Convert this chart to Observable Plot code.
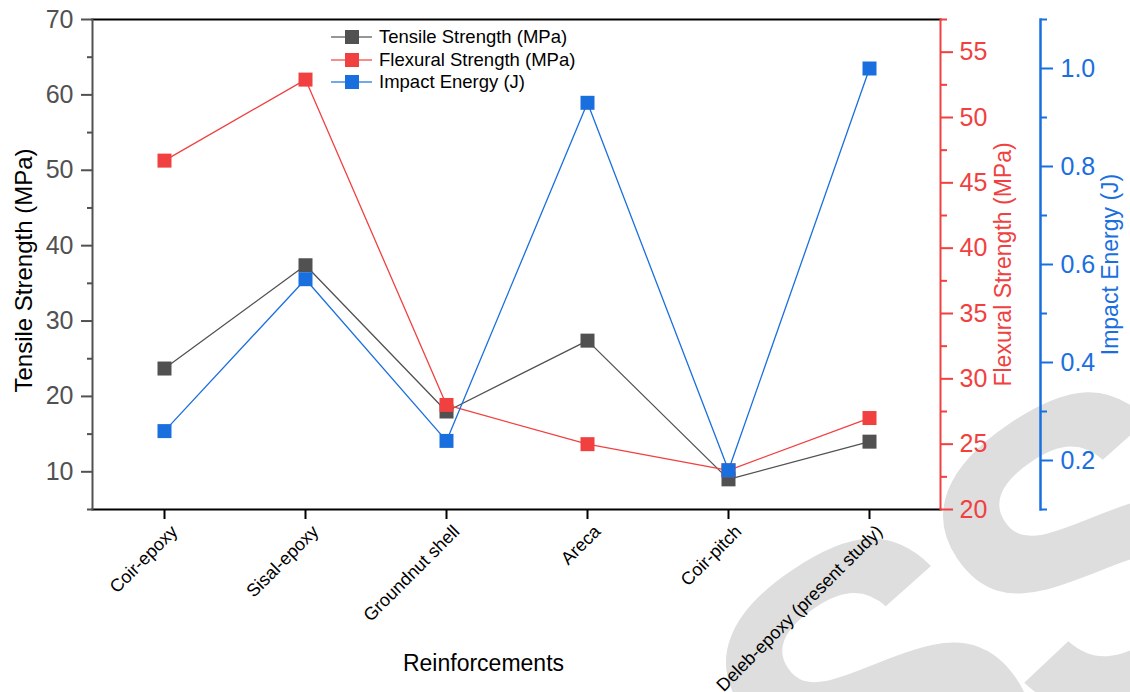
<!DOCTYPE html>
<html>
<head>
<meta charset="utf-8">
<script src="https://cdn.jsdelivr.net/npm/d3@7"></script>
<script src="https://cdn.jsdelivr.net/npm/@observablehq/plot@0.6"></script>
<style>
  body { margin: 0; background: #fff; font-family: "Liberation Sans", Arial, sans-serif; }
  #chart { position: relative; width: 1130px; height: 692px; overflow: hidden; }
  #chart > svg, #chart > .layer { position: absolute; left: 0; top: 0; }
  .legend-row { position: absolute; left: 330px; height: 22px; display: flex; align-items: center;
                font-size: 18.5px; color: #000; white-space: nowrap; }
  .legend-row svg { margin-right: 6px; }
</style>
</head>
<body>
<div id="chart"></div>
<script>
// Composite reinforcement comparison
const reinforcements = ["Coir-epoxy", "Sisal-epoxy", "Groundnut shell", "Areca", "Coir-pitch", "Deleb-epoxy (present study)"];
const tensileStrength = [23.7, 37.4, 18.0, 27.4, 9.0, 14.0];   // MPa
const flexuralStrength = [46.7, 52.9, 28.0, 25.0, 23.0, 27.0]; // MPa
const impactEnergy = [0.26, 0.57, 0.24, 0.93, 0.18, 1.0];      // J

const seriesNames = ["Tensile Strength (MPa)", "Flexural Strength (MPa)", "Impact Energy (J)"];
const seriesColors = ["#515151", "#F14040", "#1A6FDF"];

const tensileTicks = [10, 20, 30, 40, 50, 60, 70];
const tensileMinor = [5, 15, 25, 35, 45, 55, 65];
const flexuralTicks = [20, 25, 30, 35, 40, 45, 50, 55];
const flexuralMinor = [22.5, 27.5, 32.5, 37.5, 42.5, 47.5, 52.5, 57.5];
const impactTicks = [0.2, 0.4, 0.6, 0.8, 1.0];
const impactMinor = [0.1, 0.3, 0.5, 0.7, 0.9, 1.1];

const rows = reinforcements.map((name, i) => ({
  name, tensile: tensileStrength[i], flexural: flexuralStrength[i], impact: impactEnergy[i]
}));

const W = 1130, H = 692;
const FONT = "'Liberation Sans', Arial, sans-serif";
const X_RANGE = [92, 940];
const sq = 7.9; // dot radius giving ~14px squares

const chart = document.getElementById("chart");

// faint watermark lettering behind the chart
const wm = d3.create("svg").attr("class", "layer").attr("width", W).attr("height", H);
wm.append("text")
  .attr("x", 840).attr("y", 900)
  .attr("transform", "rotate(-34 840 900)")
  .attr("font-family", FONT).attr("font-weight", "bold")
  .attr("font-size", 430).attr("letter-spacing", -25).attr("fill", "#dedede")
  .text("SS");
chart.append(wm.node());

function layer(opts) {
  return Plot.plot({
    width: W, height: H,
    marginLeft: 92, marginTop: 19, marginBottom: 183,
    marginRight: opts.marginRight ?? 190,
    style: { background: "transparent", fontFamily: FONT, overflow: "visible" },
    x: { type: "point", domain: reinforcements, padding: 0.5, range: X_RANGE, axis: null },
    y: { domain: opts.yDomain, axis: null },
    marks: opts.marks
  });
}

// Tensile strength (left axis) with category axis
const p1 = layer({
  yDomain: [5, 70],
  marks: [
    Plot.frame({ anchor: "top", stroke: "#000", strokeWidth: 2 }),
    Plot.frame({ anchor: "bottom", stroke: "#000", strokeWidth: 2 }),
    Plot.frame({ anchor: "left", stroke: seriesColors[0], strokeWidth: 2 }),
    Plot.axisY(tensileTicks, { anchor: "left", tickSize: 11, tickPadding: 8, fontSize: 25, color: seriesColors[0], strokeWidth: 2, label: null }),
    Plot.axisY(tensileMinor, { anchor: "left", tickSize: 5, tickFormat: () => "", color: seriesColors[0], strokeWidth: 2, label: null }),
    Plot.axisX(reinforcements, { tickSize: 10, tickFormat: () => "", color: "#000", strokeWidth: 2, label: null }),
    Plot.text(reinforcements, { x: d => d, frameAnchor: "bottom", dy: 19, dx: 10, rotate: -45, textAnchor: "end", lineAnchor: "middle", fontSize: 18, fill: "#000" }),
    Plot.text(["Tensile Strength (MPa)"], { frameAnchor: "left", dx: -68, dy: 6, rotate: -90, textAnchor: "middle", fontSize: 24, fill: "#000", lineAnchor: "middle" }),
    Plot.text(["Reinforcements"], { frameAnchor: "bottom", dx: -33, dy: 154, textAnchor: "middle", fontSize: 23, fill: "#000", lineAnchor: "middle" }),
    Plot.line(rows, { x: "name", y: "tensile", stroke: seriesColors[0], strokeWidth: 1.3 }),
    Plot.dot(rows, { x: "name", y: "tensile", symbol: "square", r: sq, fill: seriesColors[0], stroke: null })
  ]
});

// Flexural strength (first right axis)
const p2 = layer({
  yDomain: [20, 57.5],
  marks: [
    Plot.frame({ anchor: "right", stroke: seriesColors[1], strokeWidth: 2 }),
    Plot.axisY(flexuralTicks, { anchor: "right", tickSize: 12, tickPadding: 7, fontSize: 25, color: seriesColors[1], strokeWidth: 2, label: null }),
    Plot.axisY(flexuralMinor, { anchor: "right", tickSize: 6, tickFormat: () => "", color: seriesColors[1], strokeWidth: 2, label: null }),
    Plot.text(["Flexural Strength (MPa)"], { frameAnchor: "right", dx: 63, rotate: -90, textAnchor: "middle", fontSize: 23, fill: seriesColors[1], lineAnchor: "middle" }),
    Plot.line(rows, { x: "name", y: "flexural", stroke: seriesColors[1], strokeWidth: 1.3 }),
    Plot.dot(rows, { x: "name", y: "flexural", symbol: "square", r: sq, fill: seriesColors[1], stroke: null })
  ]
});

// Impact energy (offset right axis)
const p3 = layer({
  yDomain: [0.1, 1.1],
  marginRight: 90,
  marks: [
    Plot.frame({ anchor: "right", stroke: seriesColors[2], strokeWidth: 2.5 }),
    Plot.axisY(impactTicks, { anchor: "right", tickSize: 12, tickPadding: 8, fontSize: 25, color: seriesColors[2], strokeWidth: 2, tickFormat: d3.format(".1f"), label: null }),
    Plot.axisY(impactMinor, { anchor: "right", tickSize: 6, tickFormat: () => "", color: seriesColors[2], strokeWidth: 2, label: null }),
    Plot.text(["Impact Energy (J)"], { frameAnchor: "right", dx: 70, rotate: -90, textAnchor: "middle", fontSize: 23, fill: seriesColors[2], lineAnchor: "middle" }),
    Plot.line(rows, { x: "name", y: "impact", stroke: seriesColors[2], strokeWidth: 1.3 }),
    Plot.dot(rows, { x: "name", y: "impact", symbol: "square", r: sq, fill: seriesColors[2], stroke: null })
  ]
});

chart.append(p1, p2, p3);

// legend
seriesNames.forEach((name, i) => {
  const row = document.createElement("div");
  row.className = "legend-row";
  row.style.top = (26 + i * 22.5) + "px";
  const s = d3.create("svg").attr("width", 43).attr("height", 22);
  s.append("line").attr("x1", 1).attr("x2", 42).attr("y1", 11).attr("y2", 11)
    .attr("stroke", seriesColors[i]).attr("stroke-width", 1.3).attr("opacity", 0.8);
  s.append("rect").attr("x", 15).attr("y", 4).attr("width", 14).attr("height", 14).attr("fill", seriesColors[i]);
  row.append(s.node());
  const t = document.createElement("span");
  t.textContent = name;
  row.append(t);
  chart.append(row);
});
</script>
</body>
</html>
